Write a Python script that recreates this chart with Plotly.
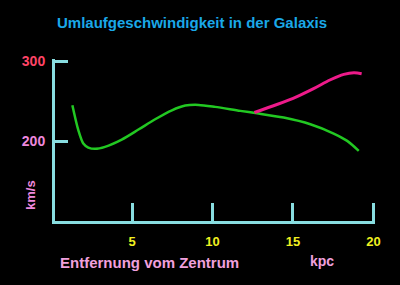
import plotly.graph_objects as go

# Data
green_x = [1.28, 1.65, 1.96, 2.27, 2.69, 3.31, 4.35, 5.39, 6.43, 7.47, 8.3, 9.13, 10.16, 11.72, 12.76, 14.42, 16.08, 17.53, 18.37, 19.09]
green_y = [245, 213.75, 197, 192, 190.4, 192.9, 202, 214.6, 227.5, 238.75, 244.6, 245.5, 243, 238, 235, 229.6, 221.25, 209.6, 200.4, 187.9]
mag_x = [12.6, 14.0, 15.25, 16.28, 17.33, 18.16, 18.79, 19.27]
mag_y = [236, 246, 256, 265.9, 277, 283.75, 285.9, 284.6]
x_ticks = [5, 10, 15, 20]
x_labels = ["5", "10", "15", "20"]
y_ticks = [200, 300]
y_labels = ["<span style='color:#ee88dd'>200</span>", "<span style='color:#ff4466'>300</span>"]

FONT = "Liberation Sans, Arial, sans-serif"
AX = "#88dde0"

fig = go.Figure()
fig.add_trace(go.Scatter(x=green_x, y=green_y, mode="lines", line=dict(color="#22c822", width=2.5, shape="spline", smoothing=0.8), hoverinfo="skip"))
fig.add_trace(go.Scatter(x=mag_x, y=mag_y, mode="lines", line=dict(color="#ee1a8a", width=3, shape="spline"), hoverinfo="skip"))

fig.update_layout(
    width=400, height=285,
    paper_bgcolor="black", plot_bgcolor="black",
    margin=dict(l=55, r=25, t=59, b=64),
    showlegend=False,
    font=dict(family=FONT),
    xaxis=dict(range=[0.2, 20.1], showgrid=False, zeroline=False, showline=True, linecolor=AX, linewidth=3,
               tickmode="array", tickvals=x_ticks, ticktext=x_labels, ticks="inside", ticklen=18, tickwidth=3,
               tickcolor=AX, tickfont=dict(color="#f0f020", size=13, family=FONT, weight="bold"),
               ticklabelstandoff=6),
    yaxis=dict(range=[100, 303], showgrid=False, zeroline=False, showline=True, linecolor=AX, linewidth=3,
               tickmode="array", tickvals=y_ticks, ticktext=y_labels, ticks="inside", ticklen=13, tickwidth=3,
               tickcolor=AX, tickfont=dict(size=14, family=FONT, weight="bold"), ticklabelstandoff=4),
)

H = 285 - 59 - 64
W = 400 - 55 - 25
fig.add_annotation(text="<b>Umlaufgeschwindigkeit in der Galaxis</b>", xref="paper", yref="paper",
                   x=(192-55)/W, y=(221-22)/H, xanchor="center", yanchor="middle",
                   showarrow=False, font=dict(color="#1aa8e8", size=15, family=FONT))
fig.add_annotation(text="<b>km/s</b>", xref="paper", yref="paper", x=(30-55)/W, y=(221-195)/H,
                   textangle=-90, showarrow=False, xanchor="center", yanchor="middle",
                   font=dict(color="#ee88dd", size=13, family=FONT))
fig.add_annotation(text="<b>Entfernung vom Zentrum</b>", xref="paper", yref="paper", x=(149-55)/W, y=(221-262)/H,
                   showarrow=False, xanchor="center", yanchor="middle",
                   font=dict(color="#f0a0dd", size=15, family=FONT))
fig.add_annotation(text="<b>kpc</b>", xref="paper", yref="paper", x=(322-55)/W, y=(221-261)/H,
                   showarrow=False, xanchor="center", yanchor="middle",
                   font=dict(color="#f0a0dd", size=14, family=FONT))

fig.write_html("out.html")
